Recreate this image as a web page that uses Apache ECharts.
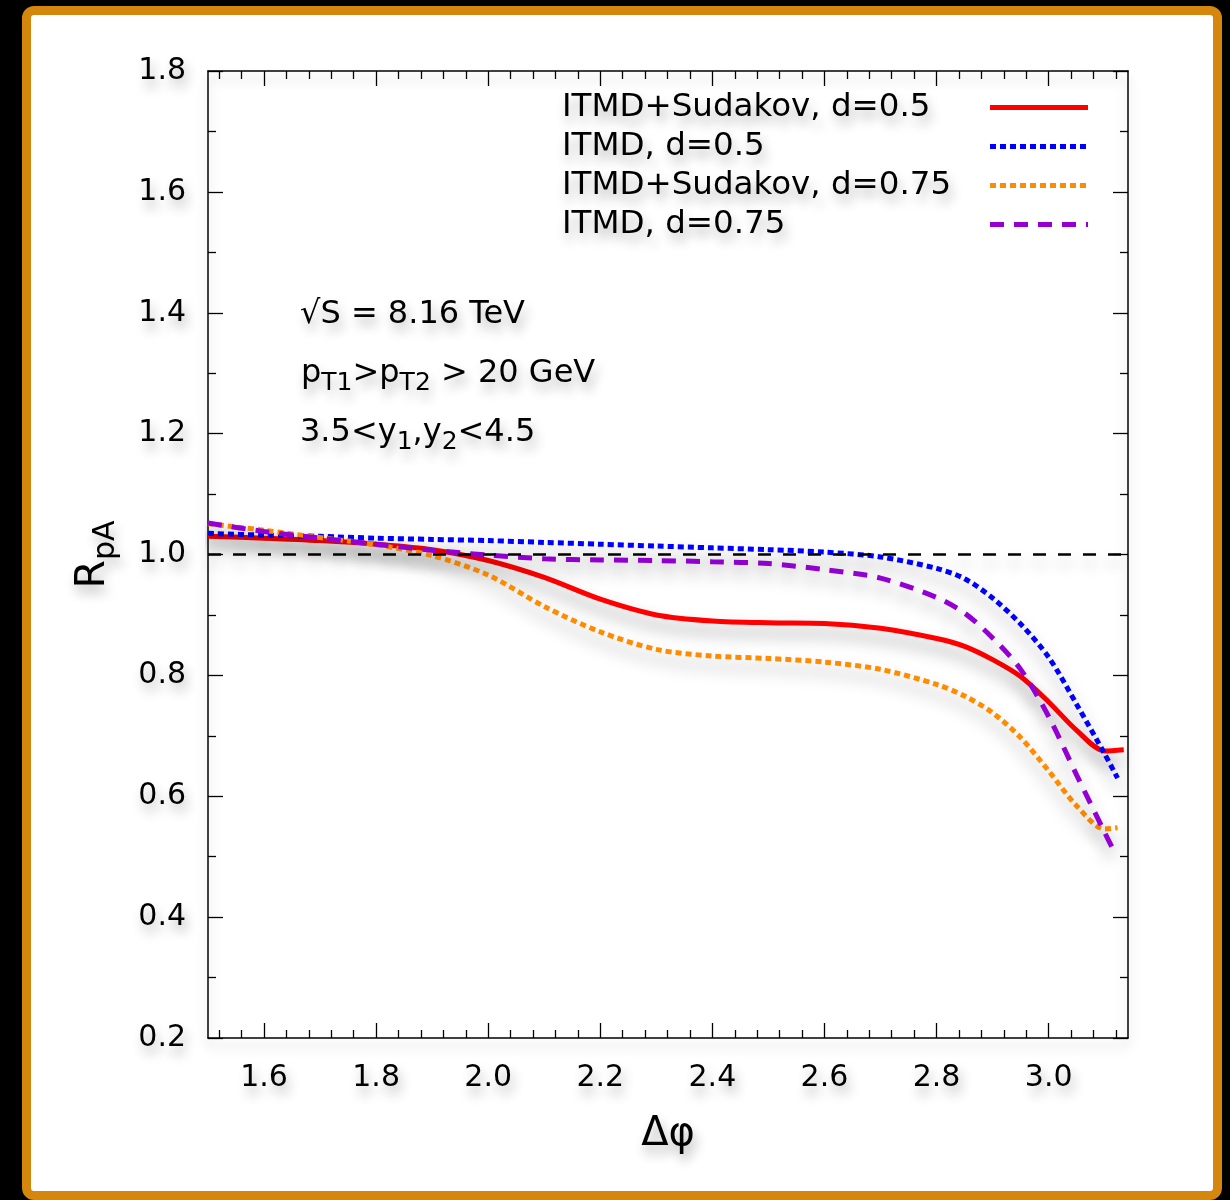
<!DOCTYPE html>
<html>
<head>
<meta charset="utf-8">
<script src="https://cdn.jsdelivr.net/npm/echarts@6/dist/echarts.min.js"></script>
<style>
  html, body { margin: 0; padding: 0; background: #000; overflow: hidden; }
  #card {
    position: absolute; left: 22px; top: 6px; width: 1200px; height: 1194px;
    box-sizing: border-box; border: 9px solid #d5860c; border-radius: 12px; background: #fff;
  }
  #chart { position: absolute; left: 0; top: 0; width: 1230px; height: 1200px; }
</style>
</head>
<body>
<div id="card"></div>
<div id="chart"></div>
<script>
// delta phi grid (last point of each curve is in dphiEnd)
var dphi = [1.5, 1.6, 1.7, 1.8, 1.9, 2.0, 2.1, 2.2, 2.3, 2.4, 2.5, 2.6, 2.7, 2.8, 2.85, 2.9, 2.95, 3.0, 3.05, 3.1];
var dphiEnd = [3.134, 3.123, 3.123, 3.116];

var sudakov05  = [1.030, 1.027, 1.023, 1.017, 1.008, 0.990, 0.962, 0.926, 0.900, 0.890, 0.887, 0.886, 0.878, 0.861, 0.848, 0.826, 0.798, 0.756, 0.709, 0.675, 0.677];
var itmd05     = [1.035, 1.032, 1.030, 1.027, 1.025, 1.023, 1.020, 1.017, 1.014, 1.011, 1.008, 1.004, 0.996, 0.977, 0.960, 0.928, 0.885, 0.830, 0.752, 0.670, 0.630];
var sudakov075 = [1.051, 1.040, 1.028, 1.016, 0.998, 0.966, 0.914, 0.872, 0.843, 0.832, 0.828, 0.822, 0.810, 0.785, 0.766, 0.738, 0.697, 0.642, 0.584, 0.546, 0.548];
var itmd075    = [1.052, 1.038, 1.027, 1.017, 1.007, 0.999, 0.993, 0.991, 0.990, 0.988, 0.985, 0.975, 0.961, 0.929, 0.903, 0.862, 0.810, 0.732, 0.635, 0.540, 0.510];

var seriesNames = ['ITMD+Sudakov, d=0.5', 'ITMD, d=0.5', 'ITMD+Sudakov, d=0.75', 'ITMD, d=0.75'];
var xTickLabels = [1.6, 1.8, 2.0, 2.2, 2.4, 2.6, 2.8, 3.0];

var chart = echarts.init(document.getElementById('chart'));
var FONT = 'DejaVu Sans';
var SH = 'rgba(0,0,0,0.3)';
var textShadow = { textShadowColor: SH, textShadowBlur: 12, textShadowOffsetX: 3, textShadowOffsetY: 8 };
var withShadow = function (o) { return Object.assign({}, textShadow, o); };

// minor tick positions on the x axis, every 0.04
var xMinor = [];
for (var k = 38; k <= 78; k++) {
    if (k % 5 !== 0) xMinor.push(+(k * 0.04).toFixed(2));
}

var toPairs = function (ys, end) {
    var res = dphi.map(function (x, i) { return [x, ys[i]]; });
    res.push([end, ys[ys.length - 1]]);
    return res;
};

var makeSeries = function (name, ys, end, color, type, width) {
    return {
        name: name,
        type: 'line',
        data: toPairs(ys, end),
        smooth: 0.3,
        symbol: 'none',
        itemStyle: { color: color },
        lineStyle: {
            color: color, width: width, type: type,
            shadowColor: 'rgba(0,0,0,0.38)', shadowBlur: 16, shadowOffsetY: 10
        },
        z: 3
    };
};

var axisLine = { lineStyle: { color: '#000', width: 1.5, shadowColor: 'rgba(0,0,0,0.28)', shadowBlur: 12, shadowOffsetY: 8 } };
var tickStyle = { color: '#000', width: 1.3 };

var xAxisBase = function (pos, ticks, len, showLine) {
    return {
        type: 'value', min: 1.5, max: 3.1416, position: pos,
        axisLine: showLine ? axisLine : { show: false },
        axisTick: { inside: true, length: len, customValues: ticks, lineStyle: tickStyle },
        axisLabel: { show: false },
        splitLine: { show: false }
    };
};

var xMain = xAxisBase('bottom', xTickLabels, 15, true);
xMain.axisLabel = withShadow({
    show: true, customValues: xTickLabels, margin: 25,
    formatter: function (v) { return v.toFixed(1); },
    fontFamily: FONT, fontSize: 30, color: '#000'
});
xMain.name = 'Δφ';
xMain.nameLocation = 'middle';
xMain.nameGap = 73;
xMain.nameTextStyle = withShadow({ fontFamily: FONT, fontSize: 40, lineHeight: 48, color: '#000' });

var yAxisBase = function (pos) {
    return {
        type: 'value', min: 0.2, max: 1.8, interval: 0.2, position: pos,
        axisLine: axisLine,
        axisTick: { inside: true, length: 15, lineStyle: tickStyle },
        minorTick: { show: true, splitNumber: 2, length: 8, lineStyle: tickStyle },
        axisLabel: { show: false },
        splitLine: { show: false }
    };
};
var yMain = yAxisBase('left');
yMain.axisLabel = withShadow({
    show: true, margin: 22,
    formatter: function (v) { return v.toFixed(1); },
    fontFamily: FONT, fontSize: 30, color: '#000'
});
yMain.name = '{r|R}{s|pA}';
yMain.nameLocation = 'middle';
yMain.nameRotate = 90;
yMain.nameGap = 87;
yMain.nameTextStyle = {
    fontFamily: FONT, color: '#000',
    rich: {
        r: withShadow({ fontFamily: FONT, fontSize: 41, lineHeight: 56, verticalAlign: 'middle', color: '#000' }),
        s: withShadow({ fontFamily: FONT, fontSize: 30, lineHeight: 33, verticalAlign: 'bottom', color: '#000' })
    }
};

var annRich = {
    n: withShadow({ fontFamily: FONT, fontSize: 32, lineHeight: 44, verticalAlign: 'middle', fill: '#000', color: '#000' }),
    s: withShadow({ fontFamily: FONT, fontSize: 25, lineHeight: 25, verticalAlign: 'bottom', fill: '#000', color: '#000' })
};

var red = makeSeries(seriesNames[0], sudakov05, dphiEnd[0], '#ff0000', 'solid', 5);
red.markLine = {
    silent: true, symbol: ['none', 'none'], label: { show: false },
    lineStyle: { color: '#000', width: 2.5, type: [13, 12], shadowColor: 'rgba(0,0,0,0.3)', shadowBlur: 14, shadowOffsetY: 9 },
    data: [{ yAxis: 1 }]
};

var option = {
    animation: false,
    backgroundColor: 'transparent',
    grid: { left: 208, right: 102, top: 71, bottom: 162 },
    legend: {
        orient: 'vertical', left: 562, top: 91, padding: 0, itemGap: 6,
        itemWidth: 98, itemHeight: 14, align: 'right',
        itemStyle: { opacity: 0 },
        lineStyle: { width: 5 },
        formatter: function (name) { return '{t|' + name + '}'; },
        textStyle: {
            fontFamily: FONT, fontSize: 32.5, color: '#000',
            rich: {
                t: withShadow({ width: 423, align: 'left', fontFamily: FONT, fontSize: 32.5, lineHeight: 32, color: '#000' })
            }
        },
        data: seriesNames
    },
    xAxis: [
        xMain,
        xAxisBase('top', xTickLabels, 15, true),
        xAxisBase('bottom', xMinor, 8, false),
        xAxisBase('top', xMinor, 8, false)
    ],
    yAxis: [yMain, yAxisBase('right')],
    graphic: [
        { type: 'text', x: 300, y: 315, style: { text: '{n|√S = 8.16 TeV}', rich: annRich, verticalAlign: 'middle' } },
        { type: 'text', x: 301, y: 374, style: { text: '{n|p}{s|T1}{n|>p}{s|T2}{n| > 20 GeV}', rich: annRich, verticalAlign: 'middle' } },
        { type: 'text', x: 300, y: 433, style: { text: '{n|3.5<y}{s|1}{n|,y}{s|2}{n|<4.5}', rich: annRich, verticalAlign: 'middle' } }
    ],
    series: [
        red,
        makeSeries(seriesNames[1], itmd05, dphiEnd[1], '#0000ff', [6, 4], 5),
        makeSeries(seriesNames[2], sudakov075, dphiEnd[2], '#ff8c00', [6, 4], 5),
        makeSeries(seriesNames[3], itmd075, dphiEnd[3], '#9400d3', [14, 10], 5)
    ]
};
chart.setOption(option);
</script>
</body>
</html>
